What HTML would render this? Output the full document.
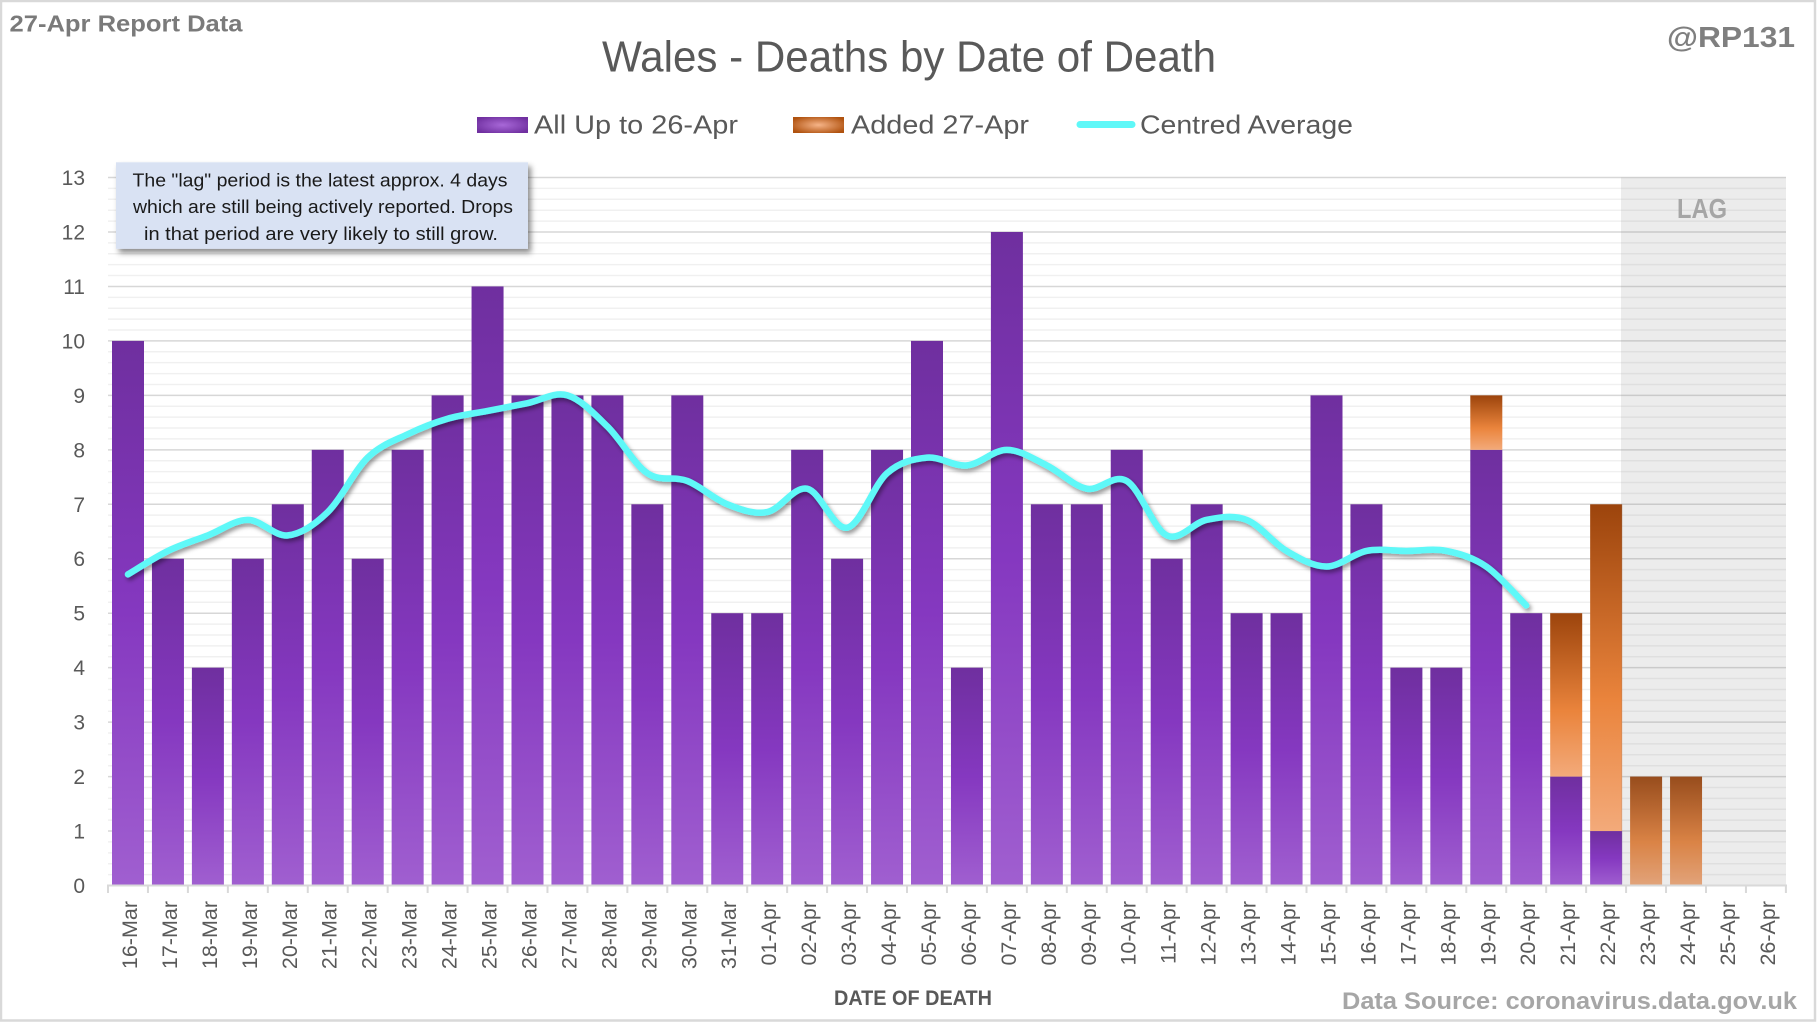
<!DOCTYPE html>
<html>
<head>
<meta charset="utf-8">
<style>
html,body{margin:0;padding:0;background:#fff;}
body{width:1817px;height:1022px;overflow:hidden;}
svg{display:block;font-family:"Liberation Sans",Arial,sans-serif;}
</style>
</head>
<body>
<svg width="1817" height="1022" viewBox="0 0 1817 1022" xmlns="http://www.w3.org/2000/svg">
<defs>
  <linearGradient id="gp" x1="0" y1="0" x2="0" y2="1">
    <stop offset="0" stop-color="#6f2f9f"/>
    <stop offset="0.5" stop-color="#8538c0"/>
    <stop offset="1" stop-color="#a05fd0"/>
  </linearGradient>
  <linearGradient id="go" x1="0" y1="0" x2="0" y2="1">
    <stop offset="0" stop-color="#9c440c"/>
    <stop offset="0.6" stop-color="#ea843c"/>
    <stop offset="1" stop-color="#f3aa7a"/>
  </linearGradient>
  <radialGradient id="lp" cx="0.5" cy="0.5" r="0.6">
    <stop offset="0" stop-color="#a868d8"/>
    <stop offset="1" stop-color="#7030a0"/>
  </radialGradient>
  <radialGradient id="lo" cx="0.5" cy="0.5" r="0.6">
    <stop offset="0" stop-color="#f6b488"/>
    <stop offset="1" stop-color="#b0520f"/>
  </radialGradient>
  <filter id="sh" x="-5%" y="-20%" width="110%" height="140%">
    <feDropShadow dx="2" dy="3" stdDeviation="2" flood-color="#000" flood-opacity="0.4"/>
  </filter>
  <filter id="bsh" x="-5%" y="-20%" width="112%" height="150%">
    <feDropShadow dx="3" dy="4" stdDeviation="3" flood-color="#000" flood-opacity="0.45"/>
  </filter>
</defs>

<!-- outer border -->
<rect x="1" y="1" width="1814" height="1019.5" fill="#fff" stroke="#d9d9d9" stroke-width="2.5"/>

<!-- header texts -->
<text x="9.5" y="31.7" font-size="23" font-weight="bold" fill="#7a7a7a" textLength="233" lengthAdjust="spacingAndGlyphs">27-Apr Report Data</text>
<text x="1667" y="47" font-size="29" font-weight="bold" fill="#7f7f7f" textLength="128" lengthAdjust="spacingAndGlyphs">@RP131</text>
<text x="602" y="71.7" font-size="44" fill="#595959" textLength="614" lengthAdjust="spacingAndGlyphs">Wales - Deaths by Date of Death</text>

<!-- legend -->
<rect x="477" y="117" width="51" height="16" fill="url(#lp)"/>
<text x="534" y="133.3" font-size="26" fill="#595959" textLength="204" lengthAdjust="spacingAndGlyphs">All Up to 26-Apr</text>
<rect x="793" y="117" width="51" height="16" fill="url(#lo)"/>
<text x="851" y="133.3" font-size="26" fill="#595959" textLength="178" lengthAdjust="spacingAndGlyphs">Added 27-Apr</text>
<line x1="1080" y1="124.5" x2="1132" y2="124.5" stroke="#5ff8f8" stroke-width="7" stroke-linecap="round"/>
<text x="1140" y="133.3" font-size="26" fill="#595959" textLength="213" lengthAdjust="spacingAndGlyphs">Centred Average</text>

<!-- gridlines -->
<line x1="947" y1="176.77" x2="947" y2="886.3" stroke="rgba(0,0,0,0.06)" stroke-width="1678" stroke-dasharray="1.5 9.392"/>
<line x1="947" y1="176.77" x2="947" y2="886.3" stroke="rgba(0,0,0,0.10)" stroke-width="1678" stroke-dasharray="1.5 52.96"/>

<!-- purple bars -->
<g fill="url(#gp)">
<rect x="112.00" y="340.90" width="32" height="544.60"/>
<rect x="151.95" y="558.74" width="32" height="326.76"/>
<rect x="191.90" y="667.66" width="32" height="217.84"/>
<rect x="231.85" y="558.74" width="32" height="326.76"/>
<rect x="271.80" y="504.28" width="32" height="381.22"/>
<rect x="311.75" y="449.82" width="32" height="435.68"/>
<rect x="351.70" y="558.74" width="32" height="326.76"/>
<rect x="391.65" y="449.82" width="32" height="435.68"/>
<rect x="431.60" y="395.36" width="32" height="490.14"/>
<rect x="471.55" y="286.44" width="32" height="599.06"/>
<rect x="511.50" y="395.36" width="32" height="490.14"/>
<rect x="551.45" y="395.36" width="32" height="490.14"/>
<rect x="591.40" y="395.36" width="32" height="490.14"/>
<rect x="631.35" y="504.28" width="32" height="381.22"/>
<rect x="671.30" y="395.36" width="32" height="490.14"/>
<rect x="711.25" y="613.20" width="32" height="272.30"/>
<rect x="751.20" y="613.20" width="32" height="272.30"/>
<rect x="791.15" y="449.82" width="32" height="435.68"/>
<rect x="831.10" y="558.74" width="32" height="326.76"/>
<rect x="871.05" y="449.82" width="32" height="435.68"/>
<rect x="911.00" y="340.90" width="32" height="544.60"/>
<rect x="950.95" y="667.66" width="32" height="217.84"/>
<rect x="990.90" y="231.98" width="32" height="653.52"/>
<rect x="1030.85" y="504.28" width="32" height="381.22"/>
<rect x="1070.80" y="504.28" width="32" height="381.22"/>
<rect x="1110.75" y="449.82" width="32" height="435.68"/>
<rect x="1150.70" y="558.74" width="32" height="326.76"/>
<rect x="1190.65" y="504.28" width="32" height="381.22"/>
<rect x="1230.60" y="613.20" width="32" height="272.30"/>
<rect x="1270.55" y="613.20" width="32" height="272.30"/>
<rect x="1310.50" y="395.36" width="32" height="490.14"/>
<rect x="1350.45" y="504.28" width="32" height="381.22"/>
<rect x="1390.40" y="667.66" width="32" height="217.84"/>
<rect x="1430.35" y="667.66" width="32" height="217.84"/>
<rect x="1470.30" y="449.82" width="32" height="435.68"/>
<rect x="1510.25" y="613.20" width="32" height="272.30"/>
<rect x="1550.20" y="776.58" width="32" height="108.92"/>
<rect x="1590.15" y="831.04" width="32" height="54.46"/>
</g>

<!-- orange bars -->
<g fill="url(#go)">
<rect x="1470.30" y="395.36" width="32" height="54.46"/>
<rect x="1550.20" y="613.20" width="32" height="163.38"/>
<rect x="1590.15" y="504.28" width="32" height="326.76"/>
<rect x="1630.10" y="776.58" width="32" height="108.92"/>
<rect x="1670.05" y="776.58" width="32" height="108.92"/>
</g>

<!-- LAG overlay -->
<rect x="1621" y="177.5" width="165" height="708" fill="rgba(128,128,128,0.15)"/>
<text x="1677" y="218" font-size="28" font-weight="bold" fill="#a6a6a6" textLength="50" lengthAdjust="spacingAndGlyphs">LAG</text>

<!-- centred average line -->
<path filter="url(#sh)" fill="none" stroke="#5ff8f8" stroke-width="6.5" stroke-linecap="round" stroke-linejoin="round" d="M127.98,574.31
C134.64,570.42 154.61,557.44 167.93,550.95
C181.25,544.46 194.56,540.56 207.88,535.38
C221.20,530.20 234.51,519.85 247.83,519.85
C261.15,519.85 274.46,536.68 287.78,535.38
C301.10,534.08 314.41,525.03 327.73,512.07
C341.05,499.11 354.36,470.58 367.68,457.61
C381.00,444.64 394.31,440.72 407.63,434.24
C420.95,427.76 434.26,422.60 447.58,418.72
C460.90,414.84 474.21,413.54 487.53,410.94
C500.85,408.34 514.16,405.75 527.48,403.15
C540.80,400.55 554.11,391.47 567.43,395.36
C580.75,399.25 594.06,413.49 607.38,426.46
C620.70,439.43 634.01,464.10 647.33,473.18
C660.65,482.26 673.96,475.74 687.28,480.92
C700.60,486.10 713.91,499.09 727.23,504.28
C740.55,509.47 753.86,514.67 767.18,512.07
C780.50,509.47 793.81,486.10 807.13,488.70
C820.45,491.30 833.76,530.23 847.08,527.64
C860.40,525.05 873.71,484.85 887.03,473.18
C900.35,461.51 913.66,458.91 926.98,457.61
C940.30,456.31 953.61,466.70 966.93,465.40
C980.25,464.10 993.56,449.82 1006.88,449.82
C1020.20,449.82 1033.51,458.92 1046.83,465.40
C1060.15,471.88 1073.46,486.11 1086.78,488.70
C1100.10,491.29 1113.41,473.14 1126.73,480.92
C1140.05,488.70 1153.36,528.89 1166.68,535.38
C1180.00,541.87 1193.31,522.44 1206.63,519.85
C1219.95,517.26 1233.26,514.67 1246.58,519.85
C1259.90,525.03 1273.21,543.17 1286.53,550.95
C1299.85,558.73 1313.16,566.53 1326.48,566.53
C1339.80,566.53 1353.11,553.55 1366.43,550.95
C1379.75,548.35 1393.06,550.95 1406.38,550.95
C1419.70,550.95 1433.01,548.35 1446.33,550.95
C1459.65,553.55 1472.96,557.45 1486.28,566.53
C1499.60,575.61 1519.57,598.93 1526.23,605.41"/>

<!-- x axis + ticks -->
<line x1="107" y1="885.5" x2="1787" y2="885.5" stroke="#d9d9d9" stroke-width="2"/>
<line x1="107" y1="889.5" x2="1787" y2="889.5" stroke="#d9d9d9" stroke-width="7" stroke-dasharray="2 37.95"/>

<!-- y labels -->
<g font-size="21" fill="#595959" text-anchor="end">
<text x="85" y="185.0">13</text>
<text x="85" y="239.5">12</text>
<text x="85" y="293.9">11</text>
<text x="85" y="348.4">10</text>
<text x="85" y="402.9">9</text>
<text x="85" y="457.3">8</text>
<text x="85" y="511.8">7</text>
<text x="85" y="566.2">6</text>
<text x="85" y="620.7">5</text>
<text x="85" y="675.2">4</text>
<text x="85" y="729.6">3</text>
<text x="85" y="784.1">2</text>
<text x="85" y="838.5">1</text>
<text x="85" y="893.0">0</text>
</g>

<!-- x labels -->
<g font-size="21.5" fill="#595959" text-anchor="end">
<text transform="translate(136.98,901) rotate(-90)">16-Mar</text>
<text transform="translate(176.93,901) rotate(-90)">17-Mar</text>
<text transform="translate(216.88,901) rotate(-90)">18-Mar</text>
<text transform="translate(256.83,901) rotate(-90)">19-Mar</text>
<text transform="translate(296.78,901) rotate(-90)">20-Mar</text>
<text transform="translate(336.73,901) rotate(-90)">21-Mar</text>
<text transform="translate(376.68,901) rotate(-90)">22-Mar</text>
<text transform="translate(416.63,901) rotate(-90)">23-Mar</text>
<text transform="translate(456.58,901) rotate(-90)">24-Mar</text>
<text transform="translate(496.53,901) rotate(-90)">25-Mar</text>
<text transform="translate(536.48,901) rotate(-90)">26-Mar</text>
<text transform="translate(576.43,901) rotate(-90)">27-Mar</text>
<text transform="translate(616.38,901) rotate(-90)">28-Mar</text>
<text transform="translate(656.33,901) rotate(-90)">29-Mar</text>
<text transform="translate(696.28,901) rotate(-90)">30-Mar</text>
<text transform="translate(736.23,901) rotate(-90)">31-Mar</text>
<text transform="translate(776.18,901) rotate(-90)">01-Apr</text>
<text transform="translate(816.13,901) rotate(-90)">02-Apr</text>
<text transform="translate(856.08,901) rotate(-90)">03-Apr</text>
<text transform="translate(896.03,901) rotate(-90)">04-Apr</text>
<text transform="translate(935.98,901) rotate(-90)">05-Apr</text>
<text transform="translate(975.93,901) rotate(-90)">06-Apr</text>
<text transform="translate(1015.88,901) rotate(-90)">07-Apr</text>
<text transform="translate(1055.83,901) rotate(-90)">08-Apr</text>
<text transform="translate(1095.78,901) rotate(-90)">09-Apr</text>
<text transform="translate(1135.73,901) rotate(-90)">10-Apr</text>
<text transform="translate(1175.68,901) rotate(-90)">11-Apr</text>
<text transform="translate(1215.63,901) rotate(-90)">12-Apr</text>
<text transform="translate(1255.58,901) rotate(-90)">13-Apr</text>
<text transform="translate(1295.53,901) rotate(-90)">14-Apr</text>
<text transform="translate(1335.48,901) rotate(-90)">15-Apr</text>
<text transform="translate(1375.43,901) rotate(-90)">16-Apr</text>
<text transform="translate(1415.38,901) rotate(-90)">17-Apr</text>
<text transform="translate(1455.33,901) rotate(-90)">18-Apr</text>
<text transform="translate(1495.28,901) rotate(-90)">19-Apr</text>
<text transform="translate(1535.23,901) rotate(-90)">20-Apr</text>
<text transform="translate(1575.18,901) rotate(-90)">21-Apr</text>
<text transform="translate(1615.13,901) rotate(-90)">22-Apr</text>
<text transform="translate(1655.08,901) rotate(-90)">23-Apr</text>
<text transform="translate(1695.03,901) rotate(-90)">24-Apr</text>
<text transform="translate(1734.98,901) rotate(-90)">25-Apr</text>
<text transform="translate(1774.93,901) rotate(-90)">26-Apr</text>
</g>

<!-- axis title & source -->
<text x="834" y="1005" font-size="21" font-weight="bold" fill="#595959" textLength="158" lengthAdjust="spacingAndGlyphs">DATE OF DEATH</text>
<text x="1342" y="1009" font-size="24.5" font-weight="bold" fill="#a6a6a6" textLength="455" lengthAdjust="spacingAndGlyphs">Data Source: coronavirus.data.gov.uk</text>

<!-- annotation box -->
<rect x="116" y="162.3" width="412" height="86.5" fill="#d9e2f3" filter="url(#bsh)"/>
<g font-size="18.5" fill="#1a1a1a" text-anchor="middle">
<text x="320" y="186.5" textLength="375" lengthAdjust="spacingAndGlyphs">The "lag" period is the latest approx. 4 days</text>
<text x="323" y="213.2" textLength="380" lengthAdjust="spacingAndGlyphs">which are still being actively reported.  Drops</text>
<text x="321" y="239.8" textLength="354" lengthAdjust="spacingAndGlyphs">in that period are very likely to still grow.</text>
</g>
</svg>
</body>
</html>
